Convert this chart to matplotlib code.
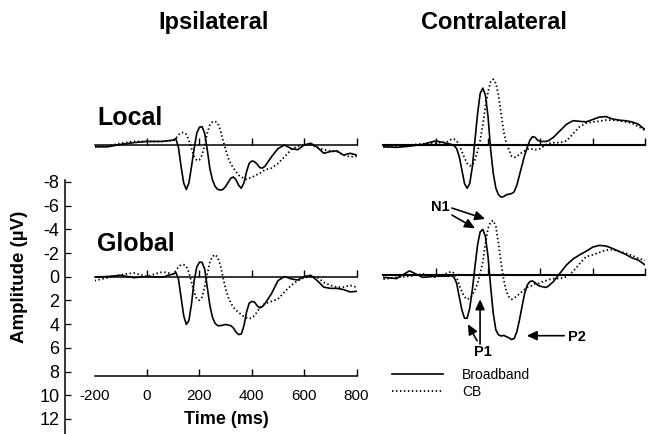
import numpy as np
import matplotlib
matplotlib.use('Agg')
import matplotlib.pyplot as plt

plt.rcParams['font.family'] = ['Liberation Sans', 'DejaVu Sans']
plt.rcParams['axes.unicode_minus'] = False

# ---------------- data ----------------
time_ms = np.array([-200, -150, -100, -50, 0, 50]
                   + list(range(60, 451, 10))
                   + list(range(475, 801, 25)))

ipsi_local_bb = [0.15, 0.15, -0.05, -0.2, -0.3, -0.3,
                 -0.3, -0.35, -0.35, -0.4, -0.4, -0.55, 0.2, 1.8, 3.2, 3.75, 3.2, 1.8, 0.3, -1.0,
                 -1.5, -1.55, -1.0, 0.4, 2.0, 2.95, 3.5, 3.75, 3.8, 3.75,
                 3.5, 3.15, 2.8, 2.7, 2.95, 3.4, 3.65, 3.2, 2.25, 1.55,
                 1.35, 1.4, 1.6, 1.9, 1.95, 1.8,
                 1.0, 0.3, 0.0, 0.3, 0.4, 0.0, -0.15, 0.2, 0.7, 0.55, 0.5, 0.85, 0.7, 0.85]
ipsi_local_cb = [0.15, 0.1, -0.15, -0.3, -0.3, -0.3,
                 -0.3, -0.3, -0.35, -0.35, -0.35, -0.55, -0.85, -1.05, -1.05, -0.9, -0.4, 0.3, 1.0, 1.3,
                 1.25, 0.85, 0.0, -1.0, -1.7, -1.95, -2.0, -1.85, -1.25, -0.4,
                 0.4, 1.1, 1.6, 1.95, 2.25, 2.55, 2.7, 2.8, 2.9, 2.8,
                 2.75, 2.6, 2.5, 2.4, 2.25, 2.1,
                 1.95, 1.55, 1.0, 0.4, 0.1, 0.0, 0.0, 0.2, 0.4, 0.5, 0.55, 0.85, 1.0, 0.95]
ipsi_global_bb = [0.05, 0.0, -0.1, 0.1, 0.0, 0.05,
                  0.05, 0.0, -0.1, -0.15, -0.2, -0.35, 0.2, 1.75, 3.3, 4.05, 3.7, 2.3, 0.35, -0.8,
                  -1.2, -1.2, -0.65, 0.9, 2.45, 3.45, 3.95, 4.15, 4.15, 4.1,
                  4.05, 4.1, 4.15, 4.35, 4.7, 4.9, 4.85, 4.15, 3.0, 2.25,
                  2.1, 2.15, 2.45, 2.65, 2.55, 2.3,
                  1.45, 0.35, 0.0, 0.2, 0.3, 0.0, -0.1, 0.35, 0.9, 1.0, 1.0, 1.1, 1.3, 1.25]
ipsi_global_cb = [0.35, 0.1, -0.15, -0.3, 0.0, -0.35,
                  -0.35, -0.35, -0.3, -0.25, -0.2, -0.5, -0.8, -1.0, -1.0, -0.85, -0.35, 0.5, 1.3, 1.9,
                  2.0, 1.75, 0.9, -0.2, -1.2, -1.7, -1.85, -1.6, -0.95, 0.05,
                  1.05, 1.75, 2.25, 2.6, 2.85, 3.05, 3.2, 3.4, 3.5, 3.55,
                  3.5, 3.3, 3.0, 2.65, 2.45, 2.3,
                  2.1, 1.9, 1.3, 0.75, 0.35, 0.1, 0.0, 0.05, 0.5, 0.75, 0.9, 0.9, 0.75, 0.9]
contra_local_bb = [0.15, 0.2, 0.1, -0.05, -0.35, -0.1,
                   -0.05, 0.05, 0.3, 1.0, 2.1, 3.25, 3.65, 3.25, 1.85, -0.4, -2.65, -4.35, -4.8, -4.2,
                   -2.4, 0.4, 2.4, 3.65, 4.2, 4.4, 4.35, 4.2, 4.15, 4.1,
                   3.95, 3.4, 2.55, 1.7, 0.85, 0.2, -0.4, -0.7, -0.65, -0.4,
                   -0.3, -0.3, -0.3, -0.35, -0.5, -0.65,
                   -1.2, -1.75, -2.05, -2.0, -1.95, -2.15, -2.35, -2.4, -2.2, -2.1, -2.05, -1.95, -1.75, -1.3]
contra_local_cb = [0.15, 0.1, 0.0, -0.1, -0.15, -0.3,
                   -0.5, -0.5, -0.35, 0.0, 0.55, 1.1, 1.55, 1.75, 1.7, 1.25, 0.55, -0.4, -1.7, -3.25,
                   -4.5, -5.35, -5.55, -5.2, -4.2, -2.65, -1.1, -0.15, 0.4, 0.95,
                   1.05, 1.0, 0.75, 0.65, 0.5, 0.35, 0.3, 0.35, 0.4, 0.35,
                   0.3, 0.15, 0.0, -0.15, -0.15, -0.2,
                   -0.2, -0.35, -0.95, -1.55, -1.85, -1.95, -2.0, -2.1, -2.1, -2.05, -1.95, -1.85, -1.55, -1.25]
contra_global_bb = [0.2, 0.3, -0.35, 0.2, 0.1, 0.1,
                    0.05, 0.2, 0.7, 1.85, 2.95, 3.65, 3.65, 2.8, 1.25, -0.7, -2.55, -3.65, -3.85, -3.25,
                    -1.55, 1.0, 3.25, 4.65, 5.05, 5.15, 5.1, 5.2, 5.3, 5.45,
                    5.35, 4.8, 3.8, 2.65, 1.55, 0.85, 0.55, 0.5, 0.65, 0.85,
                    0.95, 1.0, 1.05, 0.95, 0.75, 0.55,
                    -0.15, -0.85, -1.35, -1.7, -2.0, -2.35, -2.5, -2.45, -2.25, -2.0, -1.75, -1.45, -1.25, -0.85]
contra_global_cb = [0.35, 0.2, 0.1, -0.1, 0.2, -0.2,
                    -0.3, -0.15, 0.2, 0.85, 1.4, 1.85, 2.05, 1.95, 1.7, 1.25, 0.7, -0.15, -1.1, -2.65,
                    -3.95, -4.5, -4.6, -4.1, -2.65, -1.0, 0.4, 1.4, 1.85, 2.05,
                    1.95, 1.75, 1.6, 1.4, 1.2, 1.05, 1.0, 0.85, 0.75, 0.75,
                    0.65, 0.55, 0.5, 0.4, 0.35, 0.3,
                    0.3, 0.15, -0.3, -0.95, -1.55, -1.7, -1.9, -2.1, -2.15, -2.0, -1.85, -1.65, -1.4, -1.25]

time_ticks = [-200, 0, 200, 400, 600, 800]
amp_ticks = [-8, -6, -4, -2, 0, 2, 4, 6, 8, 10, 12]
series_labels = ['Broadband', 'CB']

# ---------------- layout helpers ----------------
W, H = 649, 434
S = 11.85  # px per microvolt
fig = plt.figure(figsize=(W / 100, H / 100), dpi=100)


def rect(x0, y0, x1, y1):
    return [x0 / W, 1 - y1 / H, (x1 - x0) / W, (y1 - y0) / H]


SOLID = dict(color='black', lw=1.2, ls='-')
DOT = dict(color='black', lw=1.3, ls=(0, (0.8, 1.4)))


def panel(x0, x1, zero_px, bb, cb, zero_lw):
    ax = fig.add_axes(rect(x0, zero_px - 8 * S, x1, zero_px + 8 * S))
    ax.patch.set_alpha(0)
    ax.set_xlim(-200, 800)
    ax.set_ylim(8, -8)
    for s in ['top', 'left', 'right']:
        ax.spines[s].set_visible(False)
    ax.spines['bottom'].set_position(('data', 0))
    ax.spines['bottom'].set_linewidth(zero_lw)
    ax.set_xticks(time_ticks[1:])
    ax.set_xticklabels([])
    ax.set_yticks([])
    ax.tick_params(axis='x', direction='in', length=5, width=1.0)
    l1, = ax.plot(time_ms, bb, **SOLID)
    l2, = ax.plot(time_ms, cb, **DOT)
    return ax, l1, l2


ax_il, _, _ = panel(94.6, 356.6, 145, ipsi_local_bb, ipsi_local_cb, 1.1)
ax_ig, _, _ = panel(94.6, 356.6, 276.5, ipsi_global_bb, ipsi_global_cb, 1.1)
ax_cl, _, _ = panel(383.4, 645, 145, contra_local_bb, contra_local_cb, 1.5)
ax_cg, h1, h2 = panel(383.4, 645, 275, contra_global_bb, contra_global_cb, 1.5)

# amplitude axis
ax_amp = fig.add_axes(rect(65, 180, 66, 434))
ax_amp.patch.set_alpha(0)
ax_amp.set_ylim(13.27, -8.16)
for s in ['top', 'bottom', 'right']:
    ax_amp.spines[s].set_visible(False)
ax_amp.spines['left'].set_linewidth(1.1)
ax_amp.set_xticks([])
ax_amp.set_yticks(amp_ticks)
ax_amp.set_yticklabels([str(v) for v in amp_ticks], fontsize=13)
ax_amp.tick_params(axis='y', direction='in', length=4, width=0.9, pad=4)

# time axis (ipsilateral bottom)
ax_t = fig.add_axes(rect(94.6, 366, 356.6, 376))
ax_t.patch.set_alpha(0)
ax_t.set_xlim(-200, 800)
for s in ['top', 'left', 'right']:
    ax_t.spines[s].set_visible(False)
ax_t.spines['bottom'].set_linewidth(1.1)
ax_t.set_yticks([])
ax_t.set_xticks(time_ticks)
ax_t.set_xticklabels([str(v) for v in time_ticks], fontsize=11)
ax_t.tick_params(axis='x', direction='in', length=5, width=1.0, pad=9.5)
ax_t.xaxis.get_major_ticks()[0].tick1line.set_visible(False)

# texts
fig.text(214 / W, 1 - 29 / H, 'Ipsilateral', ha='center', va='baseline', fontsize=17, fontweight='bold')
fig.text(494 / W, 1 - 29 / H, 'Contralateral', ha='center', va='baseline', fontsize=17, fontweight='bold')
fig.text(97 / W, 1 - 125 / H, 'Local', ha='left', va='baseline', fontsize=18, fontweight='bold')
fig.text(97 / W, 1 - 251.5 / H, 'Global', ha='left', va='baseline', fontsize=18, fontweight='bold')
fig.text(226 / W, 1 - 420 / H, 'Time (ms)', ha='center', va='center', fontsize=13, fontweight='bold')
fig.text(20 / W, 1 - 277 / H, 'Amplitude (\u00b5V)', ha='center', va='center', rotation=90,
         fontsize=13.5, fontweight='bold')

# annotations on contralateral global panel
arrow = dict(arrowstyle='-|>,head_length=0.6,head_width=0.28', color='black', lw=1.2,
             shrinkA=0, shrinkB=0, mutation_scale=10)
ax_cg.text(16, -5.76, 'N1', ha='center', va='center', fontsize=10.5, fontweight='bold')
ax_cg.annotate('', xy=(189, -4.73), xytext=(62, -5.65), arrowprops=arrow)
ax_cg.annotate('', xy=(150, -3.94), xytext=(62, -5.06), arrowprops=arrow)
ax_cg.text(182, 6.47, 'P1', ha='center', va='center', fontsize=10.5, fontweight='bold')
ax_cg.annotate('', xy=(169.5, 2.05), xytext=(169.5, 5.82), arrowprops=arrow)
ax_cg.annotate('', xy=(123, 4.15), xytext=(158, 5.55), arrowprops=arrow)
ax_cg.text(539, 5.2, 'P2', ha='center', va='center', fontsize=10.5, fontweight='bold')
ax_cg.annotate('', xy=(348, 5.12), xytext=(491, 5.12), arrowprops=arrow)

# legend
leg = fig.legend([h1, h2], series_labels, loc='upper left',
                 bbox_to_anchor=(392 / W, 1 - 368 / H), bbox_transform=fig.transFigure,
                 frameon=False, fontsize=10, handlelength=3.7, handletextpad=1.35,
                 labelspacing=0.2, borderpad=0, borderaxespad=0)

fig.savefig('out.png', dpi=100)
